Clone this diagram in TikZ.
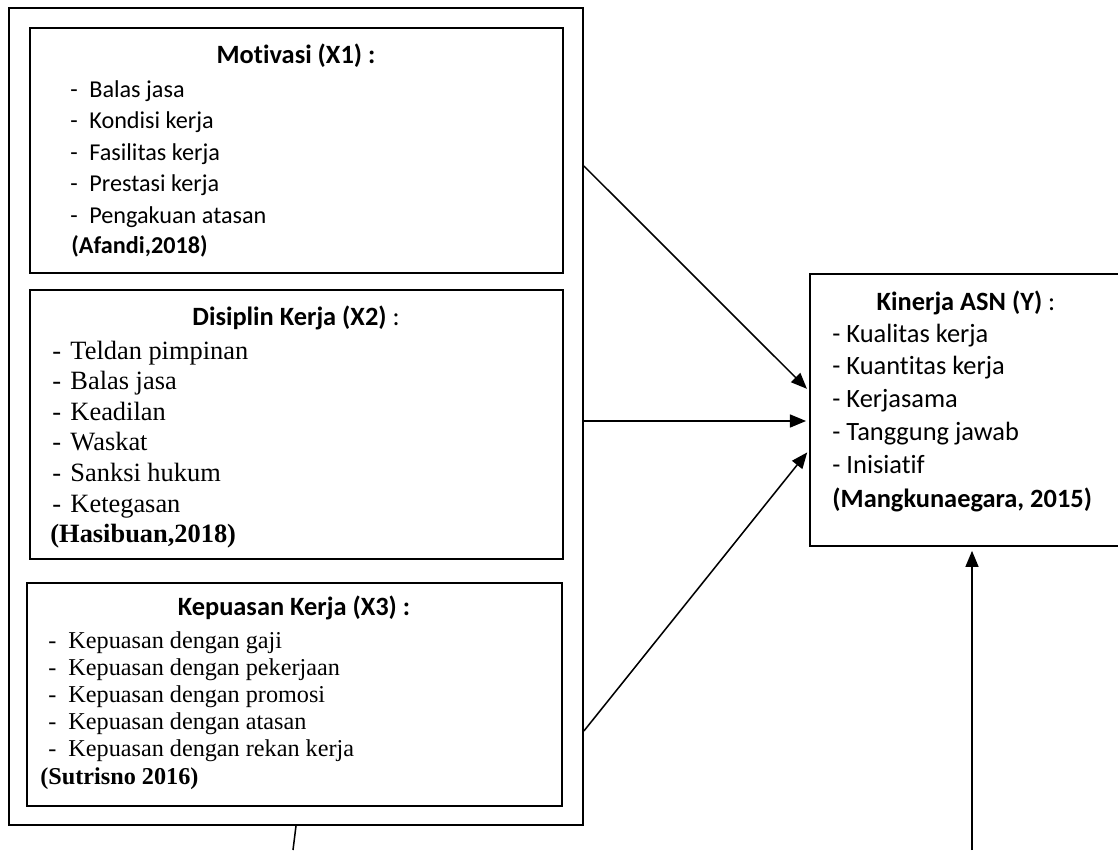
\documentclass[tikz,border=0pt]{standalone}
\usepackage{fontspec}
\setmainfont{Liberation Serif}
\newfontfamily\calibri[Ligatures={NoCommon}]{Carlito}
\usetikzlibrary{arrows.meta,fit}
\tikzstyle{bx}=[draw=black,line width=0.8pt,inner sep=0pt]
\tikzstyle{ttl}=[anchor=base,inner sep=0pt,font=\calibri\fontsize{12}{14}\selectfont]
\tikzstyle{itm}=[anchor=base west,inner sep=0pt]
\tikzstyle{arr}=[line width=0.7pt,-{Triangle[length=7.3pt,width=5.9pt]}]
\newcommand{\dsh}[1]{\makebox[#1][l]{-}}

\begin{document}
\begin{tikzpicture}[x=0.4545pt,y=-0.4545pt]
	\useasboundingbox (0,0) rectangle (1118,850);
	\clip (0,0) rectangle (1118,850);
	% boxes
	\node[bx,fit={(9,8) (583,825)}] (outer) {};
	\node[bx,fit={(30,28) (563,273)}] (mot) {};
	\node[bx,fit={(30,290) (563,559)}] (dis) {};
	\node[bx,fit={(27,583) (562,806)}] (kep) {};
	\node[bx,fit={(810,274) (1134,546)}] (kin) {};
	% Motivasi
	\node[ttl] (motT) at (296,63) {\textbf{Motivasi (X1) :}};
	\foreach \t [count=\i from 0] in {Balas jasa,Kondisi kerja,Fasilitas kerja,Prestasi kerja,Pengakuan atasan}
		\node[itm,font=\calibri\fontsize{11}{13}\selectfont] (m\i) at (70,{97+31.5*\i}) {\dsh{8.6pt}\t};
	\node[itm,font=\calibri\fontsize{11}{13}\selectfont] (motS) at (71,253) {\textbf{(Afandi,2018)}};
	% Disiplin
	\node[ttl] (disT) at (296,325) {\textbf{Disiplin Kerja (X2)} :};
	\foreach \t [count=\i from 0] in {Teldan pimpinan,Balas jasa,Keadilan,Waskat,Sanksi hukum,Ketegasan}
		\node[itm,font=\fontsize{12}{14}\selectfont] (d\i) at (52,{359+30.6*\i}) {\dsh{8.2pt}\t};
	\node[itm,font=\fontsize{12}{14}\selectfont] (disS) at (50,542) {\textbf{(Hasibuan,2018)}};
	% Kepuasan
	\node[ttl] (kepT) at (294,615) {\textbf{Kepuasan Kerja (X3) :}};
	\foreach \t [count=\i from 0] in {Kepuasan dengan gaji,Kepuasan dengan pekerjaan,Kepuasan dengan promosi,Kepuasan dengan atasan,Kepuasan dengan rekan kerja}
		\node[itm,font=\fontsize{11}{13}\selectfont] (k\i) at (48,{648+27.2*\i}) {\dsh{9.1pt}\t};
	\node[itm,font=\fontsize{11}{13}\selectfont] (kepS) at (40,784) {\textbf{(Sutrisno 2016)}};
	% Kinerja
	\node[ttl] (kinT) at (966,310) {\textbf{Kinerja ASN (Y)} :};
	\foreach \t [count=\i from 0] in {Kualitas kerja,Kuantitas kerja,Kerjasama,Tanggung jawab,Inisiatif}
		\node[itm,font=\calibri\fontsize{12}{14}\selectfont] (y\i) at (832,{342+32.8*\i}) {- \t};
	\node[itm,font=\calibri\fontsize{12}{14}\selectfont] (kinS) at (832,507) {\textbf{(Mangkunaegara, 2015)}};
	% connectors
	\coordinate (s1) at (outer.east |- 0,166);
	\coordinate (s2) at (outer.east |- 0,421);
	\coordinate (s3) at (outer.east |- 0,731);
	\coordinate (t1) at (kin.west |- 0,391);
	\coordinate (t2) at (kin.west |- 0,421);
	\coordinate (t3) at (kin.west |- 0,450);
	\coordinate (b0) at (293,850);
	\coordinate (b1) at (972,850);
	\draw[arr,shorten >=1.4pt] (s1) -- (t1);
	\draw[arr,shorten >=1.4pt] (s2) -- (t2);
	\draw[arr,shorten >=1.4pt] (s3) -- (t3);
	\draw[arr,shorten >=1.8pt] (b1) -- (kin.south);
	\draw[line width=0.7pt] (outer.south) -- (b0);
\end{tikzpicture}
\end{document}
